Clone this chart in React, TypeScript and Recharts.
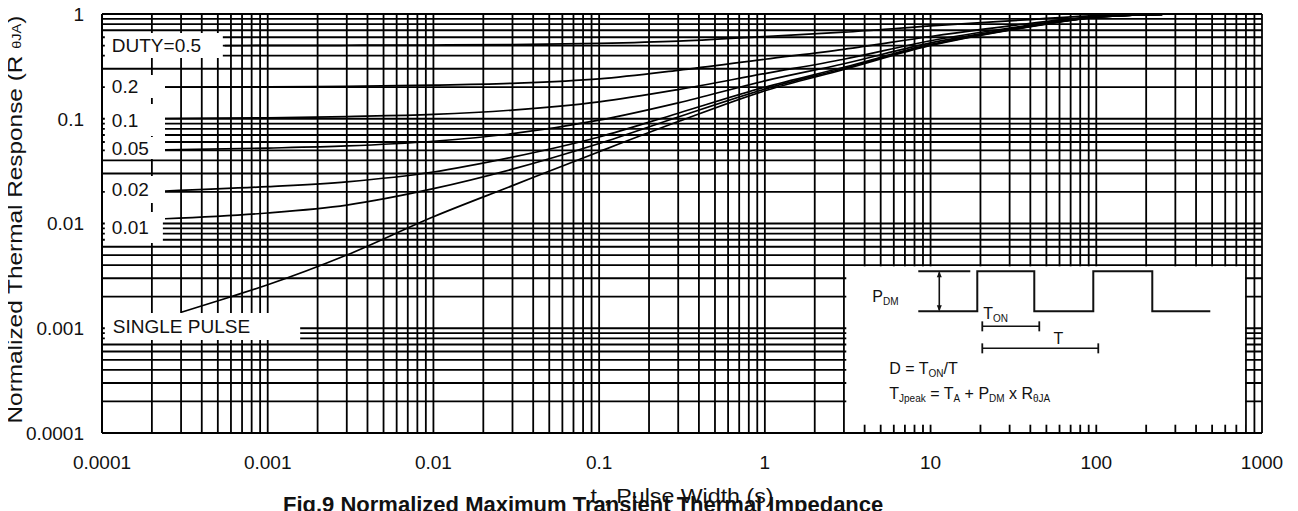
import React from "react";
import { LineChart, Line, XAxis, YAxis, CartesianGrid, ReferenceArea } from "recharts";

const FONT = "'Liberation Sans', Arial, Helvetica, sans-serif";
const INK = "#111";

// axis decades and their labels
const X_DECADES = [1e-4, 1e-3, 1e-2, 1e-1, 1, 10, 100, 1000];
const X_LABELS = ["0.0001", "0.001", "0.01", "0.1", "1", "10", "100", "1000"];
const Y_DECADES = [1e-4, 1e-3, 1e-2, 1e-1, 1];
const Y_LABELS = ["0.0001", "0.001", "0.01", "0.1", "1"];

// pulse width (s) sample points
const T_HALF = [0.00055, 0.001, 0.003, 0.01, 0.03, 0.1, 0.3, 1, 3, 10, 30, 100, 250];
const T_DUTY = [0.00024, 0.001, 0.003, 0.01, 0.03, 0.1, 0.3, 1, 3, 10, 30, 100, 250];
const T_SINGLE = [0.0003, 0.0006, 0.001, 0.003, 0.01, 0.03, 0.1, 0.3, 1, 3, 10, 30, 100, 250];

// normalized thermal response per duty cycle
const Z_D05 = [0.5, 0.501, 0.503, 0.506, 0.511, 0.524, 0.55, 0.61, 0.67, 0.77, 0.86, 0.965, 0.99];
const Z_D02 = [0.2, 0.202, 0.204, 0.209, 0.218, 0.24, 0.29, 0.37, 0.46, 0.61, 0.77, 0.945, 0.99];
const Z_D01 = [0.1005, 0.102, 0.105, 0.11, 0.121, 0.145, 0.19, 0.27, 0.37, 0.555, 0.735, 0.938, 0.99];
const Z_D005 = [0.0505, 0.0525, 0.055, 0.061, 0.072, 0.097, 0.142, 0.23, 0.335, 0.53, 0.718, 0.935, 0.99];
const Z_D002 = [0.0204, 0.0225, 0.025, 0.031, 0.043, 0.067, 0.113, 0.2, 0.31, 0.512, 0.707, 0.932, 0.99];
const Z_D001 = [0.0111, 0.0126, 0.015, 0.0215, 0.033, 0.058, 0.104, 0.192, 0.302, 0.506, 0.703, 0.931, 0.99];
const Z_SINGLE = [0.00142, 0.002, 0.0026, 0.005, 0.0116, 0.023, 0.0485, 0.094, 0.185, 0.295, 0.5, 0.7, 0.93, 0.99];

const toPoints = (ts: number[], zs: number[]) => ts.map((t, i) => ({ t, z: zs[i] }));

const logTicks = (decades: number[]) => [
  ...decades.slice(0, -1).flatMap((d) => [1, 2, 3, 4, 5, 6, 7, 8, 9].map((k) => k * d)),
  decades[decades.length - 1],
];

const X_TICKS = logTicks(X_DECADES);
const Y_TICKS = logTicks(Y_DECADES);

const decadeLabel = (v: number, decades: number[], labels: string[]) => {
  const i = decades.findIndex((d) => Math.abs(v / d - 1) < 1e-6);
  return i >= 0 ? labels[i] : "";
};

const series = [
  { key: "d05", data: toPoints(T_HALF, Z_D05) },
  { key: "d02", data: toPoints(T_DUTY, Z_D02) },
  { key: "d01", data: toPoints(T_DUTY, Z_D01) },
  { key: "d005", data: toPoints(T_DUTY, Z_D005) },
  { key: "d002", data: toPoints(T_DUTY, Z_D002) },
  { key: "d001", data: toPoints(T_DUTY, Z_D001) },
  { key: "single", data: toPoints(T_SINGLE, Z_SINGLE) },
];

const XTick = (props: any) => {
  const { x, y, payload } = props;
  const s = decadeLabel(payload.value, X_DECADES, X_LABELS);
  if (!s) return <g />;
  return (
    <text x={x} y={y + 36} textAnchor="middle" fontSize={19} fontFamily={FONT} fill={INK}>
      {s}
    </text>
  );
};

const YTick = (props: any) => {
  const { x, y, payload } = props;
  const s = decadeLabel(payload.value, Y_DECADES, Y_LABELS);
  if (!s) return <g />;
  return (
    <text x={x - 18} y={y} dy="0.36em" textAnchor="end" fontSize={19} fontFamily={FONT} fill={INK}>
      {s}
    </text>
  );
};

const XTitle = (props: any) => {
  const vb = props.viewBox;
  return (
    <g>
      <text
        x={vb.x + 181}
        y={vb.y + 79}
        fontSize={22}
        fontWeight="bold"
        fontFamily={FONT}
        fill={INK}
      >
        Fig.9 Normalized Maximum Transient Thermal Impedance
      </text>
      <text
        x={vb.x + vb.width / 2}
        y={vb.y + 70}
        textAnchor="middle"
        fontSize={21}
        fontFamily={FONT}
        fill={INK}
        textLength={183}
        lengthAdjust="spacingAndGlyphs"
      >
        t , Pulse Width (s)
      </text>
    </g>
  );
};

const YTitle = (props: any) => {
  const vb = props.viewBox;
  const cx = vb.x + 14;
  const cy = vb.y + vb.height / 2 - 4;
  return (
    <text
      x={cx}
      y={cy}
      transform={`rotate(-90, ${cx}, ${cy})`}
      textAnchor="middle"
      fontSize={20}
      fontFamily={FONT}
      fill={INK}
      textLength={408}
      lengthAdjust="spacingAndGlyphs"
    >
      Normalized Thermal Response (R{" "}
      <tspan fontSize={12} dy={-1}>θJA</tspan>
      <tspan dy={1}>)</tspan>
    </text>
  );
};

// schematic of the pulse train drawn inside the white inset box
const InsetDiagram = (props: any) => {
  const { x, y, width, height } = props;
  const P = (pts: number[][]) => pts.map(([a, b]) => `${x + a},${y + b}`).join(" ");
  const txt = { fontSize: 16, fontFamily: FONT, fill: INK };
  const sub = { fontSize: 10 };
  const dimBar = (a: number, b: number) => (
    <line x1={x + a} y1={y + b - 5} x2={x + a} y2={y + b + 5} stroke={INK} strokeWidth={1.8} />
  );
  return (
    <g>
      <rect x={x} y={y} width={width} height={height} fill="#fff" />
      <text x={x + 26} y={y + 36} {...txt}>
        P<tspan {...sub} dy={3}>DM</tspan>
      </text>
      <polyline points={P([[72, 5], [124, 5]])} fill="none" stroke={INK} strokeWidth={2} />
      <polyline
        points={P([[72, 45], [131, 45], [131, 5], [188, 5], [188, 45], [247, 45], [247, 5], [306, 5], [306, 45], [364, 45]])}
        fill="none"
        stroke={INK}
        strokeWidth={2}
      />
      <line x1={x + 93} y1={y + 6} x2={x + 93} y2={y + 44} stroke={INK} strokeWidth={1.6} />
      <polygon points={P([[93, 5], [90.5, 11], [95.5, 11]])} fill={INK} />
      <polygon points={P([[93, 45], [90.5, 39], [95.5, 39]])} fill={INK} />

      <text x={x + 137} y={y + 53} {...txt}>
        T<tspan {...sub} dy={3}>ON</tspan>
      </text>
      <line x1={x + 136} y1={y + 60} x2={x + 193} y2={y + 60} stroke={INK} strokeWidth={1.5} />
      {dimBar(136, 60)}
      {dimBar(193, 60)}

      <text x={x + 212} y={y + 78} textAnchor="middle" {...txt}>T</text>
      <line x1={x + 136} y1={y + 82} x2={x + 252} y2={y + 82} stroke={INK} strokeWidth={1.5} />
      {dimBar(136, 82)}
      {dimBar(252, 82)}

      <text x={x + 43} y={y + 108} {...txt}>
        D = T<tspan {...sub} dy={3}>ON</tspan>
        <tspan dy={-3}>/T</tspan>
      </text>
      <text x={x + 43} y={y + 133} {...txt}>
        T<tspan {...sub} dy={3}>Jpeak</tspan>
        <tspan dy={-3}> = T</tspan>
        <tspan {...sub} dy={3}>A</tspan>
        <tspan dy={-3}> + P</tspan>
        <tspan {...sub} dy={3}>DM</tspan>
        <tspan dy={-3}> x R</tspan>
        <tspan {...sub} dy={3}>θJA</tspan>
      </text>
    </g>
  );
};

const boxLabel = (value: string, offset = 7) => ({
  value,
  position: "insideLeft" as const,
  offset,
  fontSize: 19,
  fontFamily: FONT,
  fill: INK,
});

export default function App() {
  return (
    <div style={{ width: 1290, height: 503, background: "#fff" }}>
      <LineChart width={1290} height={503} margin={{ top: 6, right: 36, bottom: 0, left: 0 }}>
        <CartesianGrid stroke="#000" strokeWidth={1.8} />
        <XAxis
          dataKey="t"
          type="number"
          scale="log"
          domain={[1e-4, 1e3]}
          ticks={X_TICKS}
          interval={0}
          allowDataOverflow
          height={78}
          tickLine={false}
          tickSize={0}
          tickMargin={0}
          axisLine={{ stroke: "#000", strokeWidth: 2 }}
          tick={XTick}
          label={XTitle}
        />
        <YAxis
          dataKey="z"
          type="number"
          scale="log"
          domain={[1e-4, 1]}
          ticks={Y_TICKS}
          interval={0}
          allowDataOverflow
          width={94}
          tickLine={false}
          tickSize={0}
          tickMargin={0}
          axisLine={{ stroke: "#000", strokeWidth: 2 }}
          tick={YTick}
          label={YTitle}
        />

        {series.map((s) => (
          <Line
            key={s.key}
            data={s.data}
            dataKey="z"
            type="monotone"
            stroke="#000"
            strokeWidth={1.7}
            dot={false}
            activeDot={false}
            isAnimationActive={false}
          />
        ))}

        {/* white label boxes on the left edge */}
        <ReferenceArea x1={0.000104} x2={0.000536} y1={0.659} y2={0.38} fill="#fff" fillOpacity={1} stroke="none" label={boxLabel("DUTY=0.5")} />
        <ReferenceArea x1={0.000104} x2={0.00024} y1={0.262} y2={0.158} fill="#fff" fillOpacity={1} stroke="none" label={boxLabel("0.2")} />
        <ReferenceArea x1={0.000104} x2={0.00024} y1={0.138} y2={0.0685} fill="#fff" fillOpacity={1} stroke="none" label={boxLabel("0.1")} />
        <ReferenceArea x1={0.000104} x2={0.00024} y1={0.067} y2={0.0413} fill="#fff" fillOpacity={1} stroke="none" label={boxLabel("0.05")} />
        <ReferenceArea x1={0.000104} x2={0.00024} y1={0.0284} y2={0.0157} fill="#fff" fillOpacity={1} stroke="none" label={boxLabel("0.02")} />
        <ReferenceArea x1={0.000104} x2={0.000233} y1={0.0129} y2={0.00652} fill="#fff" fillOpacity={1} stroke="none" label={boxLabel("0.01")} />
        <ReferenceArea x1={0.000104} x2={0.00157} y1={0.0014} y2={0.000773} fill="#fff" fillOpacity={1} stroke="none" label={boxLabel("SINGLE PULSE", 8)} />

        {/* inset with the pulse definition */}
        <ReferenceArea x1={3.1} x2={790} y1={0.0039} y2={0.00012} shape={InsetDiagram} />
      </LineChart>
    </div>
  );
}
